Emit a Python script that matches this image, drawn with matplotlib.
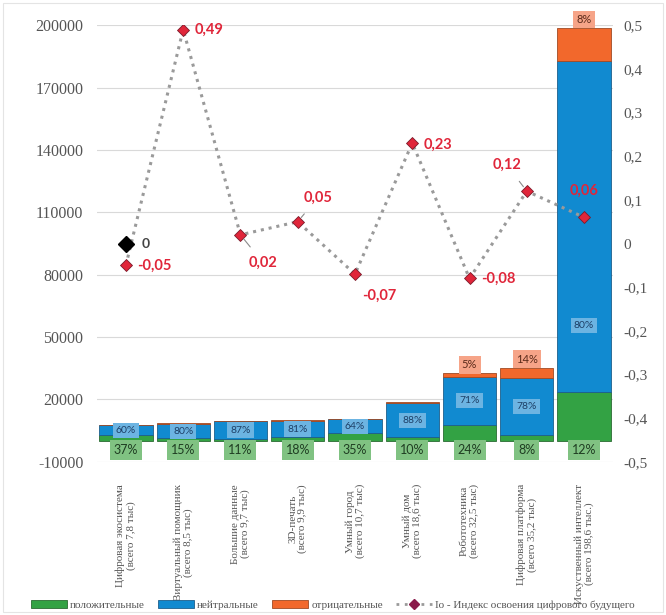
import numpy as np
import matplotlib.pyplot as plt
from matplotlib.lines import Line2D
from matplotlib.patches import Patch, Rectangle

plt.rcParams['axes.unicode_minus'] = False

categories = ['Цифровая экосистема\n(всего 7,8 тыс)', 'Виртуальный помощник\n(всего 8,5 тыс)',
              'Большие данные\n(всего 9,7 тыс)', '3D-печать\n(всего 9,9 тыс)',
              'Умный город\n(всего 10,7 тыс)', 'Умный дом\n(всего 18,6 тыс)',
              'Робототехника\n(всего 32,5 тыс)', 'Цифровая платформа\n(всего 35,2 тыс)',
              'Искуственный интеллект\n(всего 198,6 тыс.)']
totals = [7800, 8500, 9700, 9900, 10700, 18600, 32500, 35200, 198600]
pos_pct = [37, 15, 11, 18, 35, 10, 24, 8, 12]
neu_pct = [60, 80, 87, 81, 64, 88, 71, 78, 80]
neg_pct = [3, 5, 2, 1, 1, 2, 5, 14, 8]
io_index = [-0.05, 0.49, 0.02, 0.05, -0.07, 0.23, -0.08, 0.12, 0.06]
io_ref = 0.0
io_labels = ['-0,05', '0,49', '0,02', '0,05', '-0,07', '0,23', '-0,08', '0,12', '0,06']

c_pos, c_neu, c_neg = '#33a244', '#118ad0', '#f2682c'
b_pos, b_neu, b_neg = '#80c282', '#6cb4e2', '#f6a488'
red = '#e0263a'
serif = ['Liberation Serif', 'DejaVu Serif']
sans = ['Lato', 'DejaVu Sans']

fig = plt.figure(figsize=(6.66, 6.15), dpi=100)
fig.patches.append(Rectangle((0.005, 0.005), 0.99, 0.99, transform=fig.transFigure,
                             fill=False, edgecolor='#e4e4e4', lw=0.8))
ax = fig.add_axes([0.146, 0.249, 0.774, 0.71])
ax2 = ax.twinx()

x = np.arange(len(categories))
tot = np.array(totals, dtype=float)
pos = tot * np.array(pos_pct) / 100
neu = tot * np.array(neu_pct) / 100
neg = tot * np.array(neg_pct) / 100

w = 0.93
ax.bar(x, pos, w, color=c_pos, edgecolor='#2b6b33', lw=0.6, zorder=2)
ax.bar(x, neu, w, bottom=pos, color=c_neu, edgecolor='#1d5f8c', lw=0.6, zorder=2)
ax.bar(x, neg, w, bottom=pos + neu, color=c_neg, edgecolor='#a04a24', lw=0.6, zorder=2)

for i in range(len(x)):
    ax.text(x[i], -4300, f'{pos_pct[i]}%', ha='center', va='center', fontsize=9,
            family=sans, color='#1f3d22', zorder=4,
            bbox=dict(boxstyle='square,pad=0.3', fc=b_pos, ec='none'))
    yc = pos[i] + neu[i] / 2
    if i == len(x) - 1:
        yc = pos[i] + neu[i] * 0.2
    ax.text(x[i], yc, f'{neu_pct[i]}%', ha='center', va='center', fontsize=7.5,
            family=sans, color='#1d3f66', zorder=4,
            bbox=dict(boxstyle='square,pad=0.3', fc=b_neu, ec='none'))
    if tot[i] > 30000:
        ax.text(x[i], tot[i] + 4200, f'{neg_pct[i]}%', ha='center', va='center', fontsize=8,
                family=sans, color='#5a2a1a', zorder=4,
                bbox=dict(boxstyle='square,pad=0.3', fc=b_neg, ec='none'))

ax.set_ylim(-10000, 200000)
ax.set_yticks(np.arange(-10000, 200001, 30000))
ax.set_xlim(-0.5, len(x) - 0.5)
ax.grid(axis='y', color='#d9d9d9', lw=0.8, zorder=0)
ax.set_axisbelow(True)
ax.set_xticks(x)
ax.set_xticklabels(categories, rotation=90, fontsize=8, family=serif, color='#555555',
                   va='top', ha='center', linespacing=1.1)
ax.tick_params(axis='x', length=0, pad=16)
ax.tick_params(axis='y', length=0, pad=10, labelsize=11.5, labelcolor='#555555')
for t in ax.get_yticklabels():
    t.set_family(serif)

ax2.plot(x, io_index, ls=(0, (1, 1.6)), lw=2.2, color='#9a9a9a', marker='D', ms=6.5,
         mfc=red, mec='#7a1a2a', mew=0.6, zorder=5)
ax2.plot([x[0]], [io_ref], marker='D', ms=8, color='black', ls='none', zorder=6)
ax2.text(x[0] + 0.28, io_ref, '0', fontsize=10, fontweight='bold', family=sans,
         color='#444444', va='center')
ax2.set_ylim(-0.5, 0.5)
ax2.set_yticks(np.arange(-0.5, 0.51, 0.1))
ax2.set_yticklabels(['-0,5', '-0,4', '-0,3', '-0,2', '-0,1', '0', '0,1', '0,2', '0,3', '0,4', '0,5'],
                    family=serif, fontsize=11, color='#555555')
ax2.tick_params(axis='y', length=0, pad=8)

offsets = [(0.2, 0, 'left', None), (0.2, 0, 'left', None), (0.15, -0.065, 'left', True),
           (0.1, 0.055, 'left', True), (0.12, -0.05, 'left', None), (0.2, -0.005, 'left', None),
           (0.2, 0, 'left', None), (-0.1, 0.06, 'right', True), (0.0, 0.06, 'center', None)]
for i, (dx, dy, ha, lead) in enumerate(offsets):
    if lead:
        ax2.annotate(io_labels[i], xy=(x[i], io_index[i]), xytext=(x[i] + dx, io_index[i] + dy),
                     ha=ha, va='center', fontsize=10.5, fontweight='bold', family=sans, color=red,
                     arrowprops=dict(arrowstyle='-', color='#8a8a8a', lw=0.8, shrinkA=6, shrinkB=4),
                     zorder=7)
    else:
        ax2.text(x[i] + dx, io_index[i] + dy, io_labels[i], ha=ha, va='center', fontsize=10.5,
                 fontweight='bold', family=sans, color=red, zorder=7)

for s in list(ax.spines.values()) + list(ax2.spines.values()):
    s.set_visible(False)

handles = [Patch(fc=c_pos, ec='#2b6b33', lw=0.6), Patch(fc=c_neu, ec='#1d5f8c', lw=0.6),
           Patch(fc=c_neg, ec='#a04a24', lw=0.6),
           Line2D([], [], ls=(0, (1, 2)), lw=2, color='#9a9a9a', marker='D', ms=5,
                  mfc='#8a1a4a', mec='#8a1a4a')]
labels = ['положительные', 'нейтральные', 'отрицательные', 'Io - Индекс освоения цифрового будущего']
fig.legend(handles, labels, loc='lower center', bbox_to_anchor=(0.5, -0.008), ncol=4, frameon=False,
           prop={'family': serif, 'size': 8}, labelcolor='#555555', handlelength=3.2,
           handleheight=0.7, columnspacing=1.2, handletextpad=0.3)

fig.savefig('out.png', dpi=100)
